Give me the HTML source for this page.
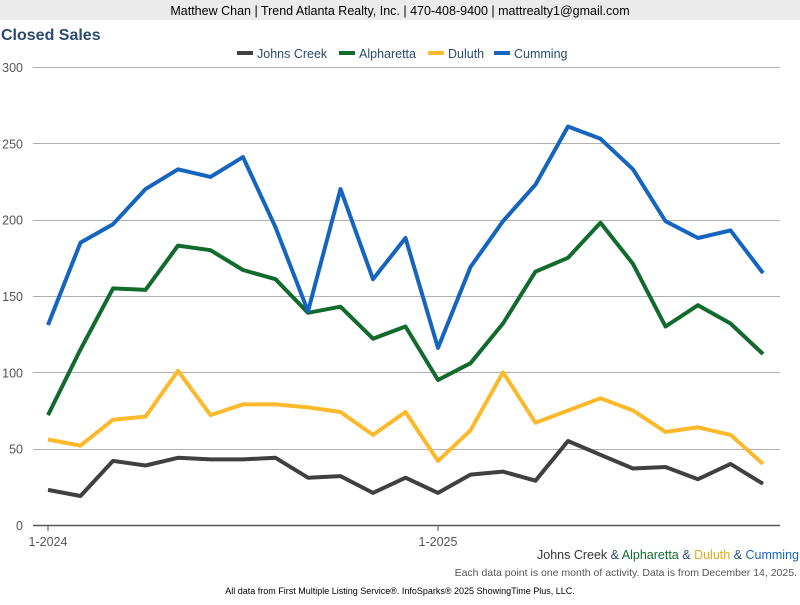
<!DOCTYPE html>
<html><head><meta charset="utf-8"><style>
body{margin:0;width:800px;height:600px;background:#fff;font-family:"Liberation Sans",sans-serif;overflow:hidden}
</style></head><body>
<svg id="s" width="800" height="600" xmlns="http://www.w3.org/2000/svg" font-family="Liberation Sans, sans-serif">
<rect x="0" y="0" width="800" height="20" fill="#ebebeb"/>
<text x="400" y="15" text-anchor="middle" font-size="12.5" fill="#000">Matthew Chan | Trend Atlanta Realty, Inc. | 470-408-9400 | mattrealty1@gmail.com</text>
<text x="1" y="40" font-size="16" font-weight="bold" fill="#2a4a6e">Closed Sales</text>
<g font-size="12.5" fill="#2a4a6e">
<rect x="237" y="51" width="16" height="4" fill="#404040"/><text x="257" y="58">Johns Creek</text>
<rect x="339" y="51" width="16" height="4" fill="#116b2d"/><text x="359" y="58">Alpharetta</text>
<rect x="428" y="51" width="16" height="4" fill="#fbb92b"/><text x="448" y="58">Duluth</text>
<rect x="494" y="51" width="16" height="4" fill="#1565c0"/><text x="514" y="58">Cumming</text>
</g>
<g id="grid" stroke="#b0b0b0" stroke-width="1"></g>
<g id="yl" font-size="12.5" fill="#555" text-anchor="end"></g>
<line x1="33" y1="525.5" x2="780" y2="525.5" stroke="#555" stroke-width="1.5"/>
<line x1="48" y1="525" x2="48" y2="531" stroke="#555"/>
<line x1="438" y1="525" x2="438" y2="531" stroke="#555"/>
<text x="48" y="546" font-size="12.5" fill="#555" text-anchor="middle">1-2024</text>
<text x="438" y="546" font-size="12.5" fill="#555" text-anchor="middle">1-2025</text>
<g id="lines" fill="none" stroke-width="4" stroke-linejoin="round"></g>
<text x="799" y="559" font-size="12.5" text-anchor="end"><tspan fill="#333">Johns Creek</tspan><tspan fill="#2a4a6e"> &amp; </tspan><tspan fill="#116b2d">Alpharetta</tspan><tspan fill="#2a4a6e"> &amp; </tspan><tspan fill="#e6a817">Duluth</tspan><tspan fill="#2a4a6e"> &amp; </tspan><tspan fill="#1565c0">Cumming</tspan></text>
<text x="797" y="576" font-size="10.5" text-anchor="end" fill="#555">Each data point is one month of activity. Data is from December 14, 2025.</text>
<text x="400" y="594" font-size="9" text-anchor="middle" fill="#000">All data from First Multiple Listing Service®. InfoSparks® 2025 ShowingTime Plus, LLC.</text>
</svg>
<script>
var ns="http://www.w3.org/2000/svg";
function Y(v){return 525-v*458/300;}
var g=document.getElementById('grid'),yl=document.getElementById('yl');
for(var v=50;v<=300;v+=50){var l=document.createElementNS(ns,'line');l.setAttribute('x1',33);l.setAttribute('x2',780);l.setAttribute('y1',Math.round(Y(v))+.5);l.setAttribute('y2',Math.round(Y(v))+.5);g.appendChild(l);}
for(var v=0;v<=300;v+=50){var t=document.createElementNS(ns,'text');t.setAttribute('x',23);t.setAttribute('y',Y(v)+5);t.textContent=v;yl.appendChild(t);}
var S=[
["#404040",[23,19,42,39,44,43,43,44,31,32,21,31,21,33,35,29,55,46,37,38,30,40,27]],
["#116b2d",[72,115,155,154,183,180,167,161,139,143,122,130,95,106,132,166,175,198,171,130,144,132,112]],
["#fbb92b",[56,52,69,71,101,72,79,79,77,74,59,74,42,62,100,67,75,83,75,61,64,59,40]],
["#1565c0",[131,185,197,220,233,228,241,195,140,220,161,188,116,169,199,223,261,253,233,199,188,193,165]]];
var L=document.getElementById('lines');
S.forEach(function(s){var p=s[1].map(function(v,i){return (48+i*32.5)+','+Y(v).toFixed(1)}).join(' ');var e=document.createElementNS(ns,'polyline');e.setAttribute('points',p);e.setAttribute('stroke',s[0]);L.appendChild(e);});
</script>
</body></html>
